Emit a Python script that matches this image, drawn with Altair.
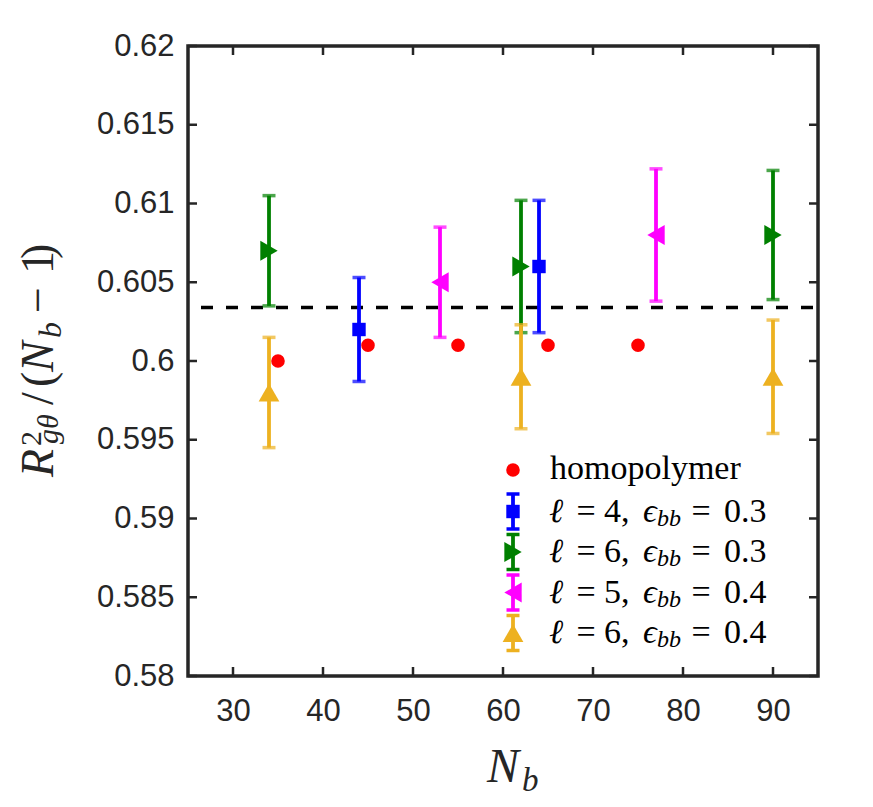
import altair as alt
import pandas as pd

# ---- measured values -------------------------------------------------------
homo_n = [35, 45, 55, 65, 75]
homo_r = [0.600, 0.601, 0.601, 0.601, 0.601]

l4e03_n = [44, 64]
l4e03_r = [0.602, 0.606]
l4e03_err = [0.0033, 0.0042]

l6e03_n = [34, 62, 90]
l6e03_r = [0.607, 0.606, 0.608]
l6e03_err = [0.0035, 0.0042, 0.0041]

l5e04_n = [53, 77]
l5e04_r = [0.605, 0.608]
l5e04_err = [0.0035, 0.0042]

l6e04_n = [34, 62, 90]
l6e04_r = [0.598, 0.599, 0.599]
l6e04_err = [0.0035, 0.0033, 0.0036]

ref_value = 0.6034

x_ticks = [30, 40, 50, 60, 70, 80, 90]
y_ticks = [0.58, 0.585, 0.59, 0.595, 0.6, 0.605, 0.61, 0.615, 0.62]

# ---- layout / style --------------------------------------------------------
W, H = 630, 630
LEFT, TOP = 188, 46
INK = "#262626"
SANS = "Liberation Sans"
SERIF = "Liberation Serif"

series = [
    dict(n=l4e03_n, r=l4e03_r, err=l4e03_err, color="#0000ff", shape="square", size=180,
         ell="4", eps="0.3"),
    dict(n=l6e03_n, r=l6e03_r, err=l6e03_err, color="#008000", shape="triangle-right", size=400,
         ell="6", eps="0.3"),
    dict(n=l5e04_n, r=l5e04_r, err=l5e04_err, color="#ff00ff", shape="triangle-left", size=400,
         ell="5", eps="0.4"),
    dict(n=l6e04_n, r=l6e04_r, err=l6e04_err, color="#edb120", shape="triangle-up", size=430,
         ell="6", eps="0.4"),
]

xs = alt.Scale(domain=[25, 95], nice=False, zero=False)
ys = alt.Scale(domain=[0.58, 0.62], nice=False, zero=False)

x_axis = alt.Axis(values=x_ticks, ticks=False, domain=False, grid=False, title=None,
                  labelFont=SANS, labelFontSize=31, labelColor=INK, labelPadding=20)
y_axis = alt.Axis(values=y_ticks, ticks=False, domain=False, grid=False, title=None,
                  format=".3~f", labelFont=SANS, labelFontSize=31, labelColor=INK,
                  labelPadding=14)


def X(field="n"):
    return alt.X(f"{field}:Q", scale=xs, axis=x_axis)


def Y(field="r"):
    return alt.Y(f"{field}:Q", scale=ys, axis=y_axis)


def px(x):
    return alt.value(x - LEFT)


def py(y):
    return alt.value(y - TOP)


def label(text, x, y, size, style="normal", align="left", angle=None, color="black"):
    kw = dict(text=text, font=SERIF, fontSize=size, fontStyle=style, align=align,
              baseline="alphabetic", color=color)
    if angle is not None:
        kw["angle"] = angle
    return alt.Chart(one).mark_text(**kw).encode(x=px(x), y=py(y))


one = pd.DataFrame({"k": [0]})
layers = []

# inward tick marks on all four sides of the box
xt = pd.DataFrame({"n": x_ticks})
yt = pd.DataFrame({"r": y_ticks})
tick_style = dict(color=INK, strokeWidth=2.5)
layers += [
    alt.Chart(xt).mark_rule(**tick_style).encode(x=X(), y=alt.value(H), y2=alt.value(H - 9)),
    alt.Chart(xt).mark_rule(**tick_style).encode(x=X(), y=alt.value(0), y2=alt.value(9)),
    alt.Chart(yt).mark_rule(**tick_style).encode(y=Y(), x=alt.value(0), x2=alt.value(9)),
    alt.Chart(yt).mark_rule(**tick_style).encode(y=Y(), x=alt.value(W), x2=alt.value(W - 9)),
]

# dashed reference level
layers.append(
    alt.Chart(pd.DataFrame({"r": [ref_value]}))
    .mark_rule(color="black", strokeWidth=3.5, strokeDash=[12, 13], strokeDashOffset=20)
    .encode(y=Y())
)

# homopolymer points
homo = pd.DataFrame({"n": homo_n, "r": homo_r})
layers.append(
    alt.Chart(homo).mark_point(shape="circle", filled=True, size=185, color="#ff0000", opacity=1)
    .encode(x=X(), y=Y())
)

# error-bar series
for s in series:
    df = pd.DataFrame({"n": s["n"], "r": s["r"], "e": s["err"]})
    df["lo"] = df["r"] - df["e"]
    df["hi"] = df["r"] + df["e"]
    base = alt.Chart(df)
    layers += [
        base.mark_rule(color=s["color"], strokeWidth=3.8).encode(x=X(), y=Y("lo"), y2="hi:Q"),
        base.mark_tick(color=s["color"], orient="horizontal", size=13, thickness=3.5)
        .encode(x=X(), y=Y("lo")),
        base.mark_tick(color=s["color"], orient="horizontal", size=13, thickness=3.5)
        .encode(x=X(), y=Y("hi")),
        base.mark_point(shape=s["shape"], filled=True, size=s["size"], color=s["color"], opacity=1)
        .encode(x=X(), y=Y()),
    ]

# legend
LEG_X, TXT_X = 513, 550
row_y = [470, 511.5, 552, 592.5, 633]
FS = 34
layers.append(
    alt.Chart(one).mark_point(shape="circle", filled=True, size=185, color="#ff0000", opacity=1)
    .encode(x=px(LEG_X), y=py(row_y[0]))
)
layers.append(label("homopolymer", TXT_X, row_y[0] + 9, FS))
for s, yc in zip(series, row_y[1:]):
    c = s["color"]
    layers += [
        alt.Chart(one).mark_rule(color=c, strokeWidth=3.8)
        .encode(x=px(LEG_X), y=py(yc - 17.5), y2=py(yc + 17.5)),
        alt.Chart(one).mark_rule(color=c, strokeWidth=3.5)
        .encode(x=px(LEG_X - 6.5), x2=px(LEG_X + 6.5), y=py(yc - 17.5)),
        alt.Chart(one).mark_rule(color=c, strokeWidth=3.5)
        .encode(x=px(LEG_X - 6.5), x2=px(LEG_X + 6.5), y=py(yc + 17.5)),
        alt.Chart(one).mark_point(shape=s["shape"], filled=True, size=s["size"], color=c, opacity=1)
        .encode(x=px(LEG_X), y=py(yc)),
    ]
    base_y = yc + 10
    layers += [
        label("ℓ", 549, base_y, FS, "italic"),
        label("=", 586, base_y, FS, align="center"),
        label(s["ell"] + ",", 604, base_y, FS),
        label("ϵ", 643, base_y, FS, "italic"),
        label("bb", 657, base_y + 4, 24, "italic"),
        label("=", 701, base_y, FS, align="center"),
        label(s["eps"], 724, base_y, FS),
    ]

# x-axis title: N_b
layers += [
    label("N", 487, 782, 48, "italic", color=INK),
    label("b", 522, 791, 33, "italic", color=INK),
]

# y-axis title: R^2_{g theta} / (N_b - 1), rotated to read upward
ytitle = [
    ("R", 46, "italic", 53, 477),
    ("2", 30, "normal", 41, 446),
    ("gθ", 30, "italic", 58, 444),
    ("/", 46, "normal", 53, 405),
    ("(", 46, "normal", 53, 387),
    ("N", 46, "italic", 53, 372),
    ("b", 32, "italic", 61, 338),
    ("−", 46, "normal", 53, 313),
    ("1", 46, "normal", 53, 274),
    (")", 46, "normal", 53, 259),
]
for t, size, style, bx, by in ytitle:
    layers.append(label(t, bx, by, size, style, angle=270, color=INK))

chart = (
    alt.layer(*layers)
    .properties(
        width=W,
        height=H,
        autosize=alt.AutoSizeParams(type="none"),
        padding={"left": LEFT, "top": TOP, "right": 873 - LEFT - W, "bottom": 807 - TOP - H},
        background="white",
    )
    .configure_view(stroke=INK, strokeWidth=3.5)
)

chart.save("out.html", embed_options={"renderer": "svg", "actions": False})
